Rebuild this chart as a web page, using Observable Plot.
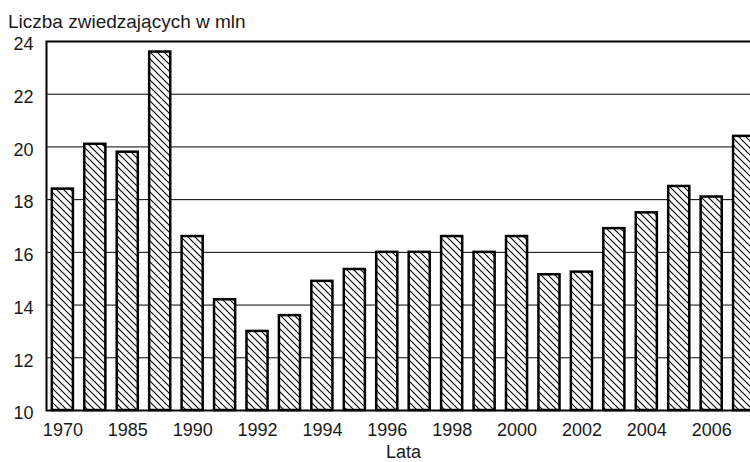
<!DOCTYPE html>
<html>
<head>
<meta charset="utf-8">
<script src="https://cdn.jsdelivr.net/npm/d3@7"></script>
<script src="https://cdn.jsdelivr.net/npm/@observablehq/plot@0.6"></script>
<style>
  html, body { margin: 0; padding: 0; background: #fff; }
  body { width: 750px; height: 462px; overflow: hidden; position: relative;
         font-family: "Liberation Sans", Arial, sans-serif; }
  #title { position: absolute; left: 8px; top: 12px; font-size: 19px; line-height: 19px;
           color: #1a1a1a; white-space: nowrap; }
  #chart { position: absolute; left: 0; top: 0; width: 760px; }
  #chart svg { max-width: none !important; }
</style>
</head>
<body>
<div id="chart"></div>
<div id="title">Liczba zwiedzających w mln</div>
<script>
// Visitors (millions) per year
const years = ["1970", "1980", "1985", "1988", "1990", "1991", "1992", "1993", "1994", "1995", "1996",
               "1997", "1998", "1999", "2000", "2001", "2002", "2003", "2004", "2005", "2006", "2007"];
const visitors = [18.4, 20.1, 19.8, 23.6, 16.6, 14.2, 13.0, 13.6, 14.9, 15.35, 16.0,
                  16.0, 16.6, 16.0, 16.6, 15.15, 15.25, 16.9, 17.5, 18.5, 18.1, 20.4];
const xTickLabels = ["1970", "1985", "1990", "1992", "1994", "1996", "1998", "2000", "2002", "2004", "2006"];
const yTicks = [10, 12, 14, 16, 18, 20, 22, 24];

const rows = years.map((year, i) => ({year, value: visitors[i]}));

const plot = Plot.plot({
  width: 760,
  height: 462,
  marginTop: 41,
  marginBottom: 52,
  marginLeft: 46,
  marginRight: 0,
  style: {fontFamily: "'Liberation Sans', Arial, sans-serif", fontSize: "18px", color: "#1a1a1a",
          background: "white", maxWidth: "none"},
  x: {domain: years, paddingInner: 0.35, paddingOuter: 0.18, round: false, label: null},
  y: {domain: [10, 24], label: null},
  marks: [
    Plot.gridY(yTicks, {stroke: "black", strokeOpacity: 1, strokeWidth: 1}),
    Plot.barY(rows, {x: "year", y1: 10, y2: "value", fill: "url(#hatch)", stroke: "black", strokeWidth: 2.5}),
    Plot.frame({stroke: "black", strokeWidth: 2}),
    Plot.axisY({ticks: yTicks, tickSize: 0, tickPadding: 13, label: null, dy: 3, fontSize: 18}),
    Plot.axisX({ticks: xTickLabels, tickSize: 0, tickPadding: 13, label: null, fontSize: 18}),
    Plot.axisX({ticks: [], label: "Lata", labelAnchor: "center", labelOffset: 47, fontSize: 18, dx: 4})
  ]
});

// Diagonal hatch fill for the bars
const svg = d3.select(plot);
const defs = svg.insert("defs", ":first-child");
const pat = defs.append("pattern")
  .attr("id", "hatch")
  .attr("patternUnits", "userSpaceOnUse")
  .attr("width", 7)
  .attr("height", 7);
pat.append("rect").attr("width", 7).attr("height", 7).attr("fill", "white");
pat.append("path")
  .attr("d", "M-1,-1L8,8M-1,6L1,8M6,-1L8,1")
  .attr("stroke", "black")
  .attr("stroke-width", 1.1)
  .attr("fill", "none");

document.getElementById("chart").appendChild(plot);
</script>
</body>
</html>
